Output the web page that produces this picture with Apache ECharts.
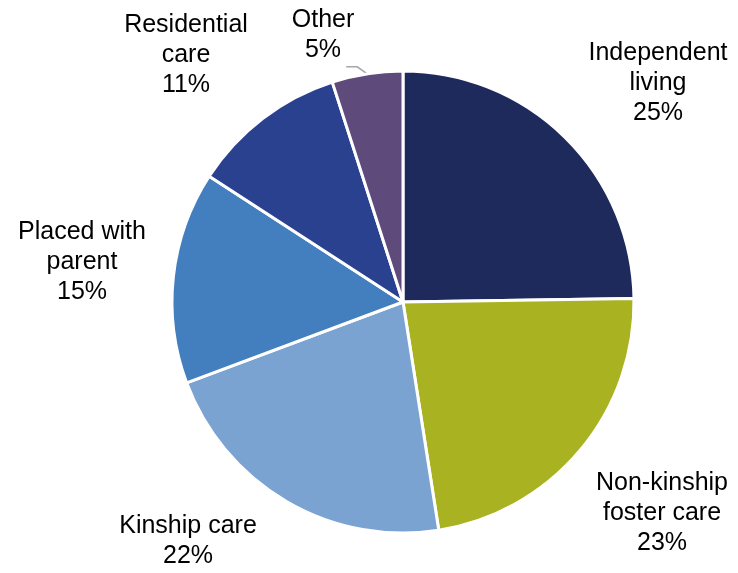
<!DOCTYPE html>
<html>
<head>
<meta charset="utf-8">
<script src="https://cdn.jsdelivr.net/npm/echarts@6/dist/echarts.min.js"></script>
<style>
  html, body { margin: 0; padding: 0; background: #ffffff; }
  #chart { width: 738px; height: 573px; }
</style>
</head>
<body>
<div id="chart"></div>
<script>
// Living arrangements, share of total (%)
const categories = ['Independent\nliving', 'Non-kinship\nfoster care', 'Kinship care', 'Placed with\nparent', 'Residential\ncare', 'Other'];
const shares = [25, 23, 22, 15, 11, 5];
const sliceColors = ['#1d2a5b', '#a9b220', '#7aa3d2', '#437ebf', '#2a4190', '#5f4a7c'];

// Label anchor points (centre of each text block), in pixels
const labelAnchors = [[658, 83], [662, 513], [188, 541], [82, 262], [186, 55], [323, 35]];

const chart = echarts.init(document.getElementById('chart'), null, { renderer: 'canvas' });

chart.setOption({
  animation: false,
  series: [{
    type: 'pie',
    center: [403, 302],
    radius: 231,
    startAngle: 90,
    clockwise: true,
    avoidLabelOverlap: false,
    itemStyle: { borderColor: '#ffffff', borderWidth: 3 },
    label: {
      show: true,
      position: 'outside',
      formatter: p => p.name + '\n' + p.value + '%',
      fontFamily: '"Liberation Sans", Arial, sans-serif',
      fontSize: 25,
      lineHeight: 30,
      color: '#000000',
      align: 'center'
    },
    labelLine: { show: false },
    labelLayout: p => {
      const a = labelAnchors[p.dataIndex];
      const out = { x: a[0], y: a[1], align: 'center', verticalAlign: 'middle' };
      // short elbow leader from the slice edge for the small slice
      if (p.labelLinePoints) {
        const s = p.labelLinePoints[0];
        const m = [s[0] - 10, s[1] - 7];
        out.labelLinePoints = [s, m, [m[0] - 11, m[1]]];
      }
      return out;
    },
    data: categories.map((name, i) => ({
      name: name,
      value: shares[i],
      itemStyle: { color: sliceColors[i] },
      labelLine: i === 5 ? { show: true, length: 8, length2: 11, lineStyle: { color: '#a6a6a6', width: 1.5 } } : undefined
    }))
  }]
});
</script>
</body>
</html>
